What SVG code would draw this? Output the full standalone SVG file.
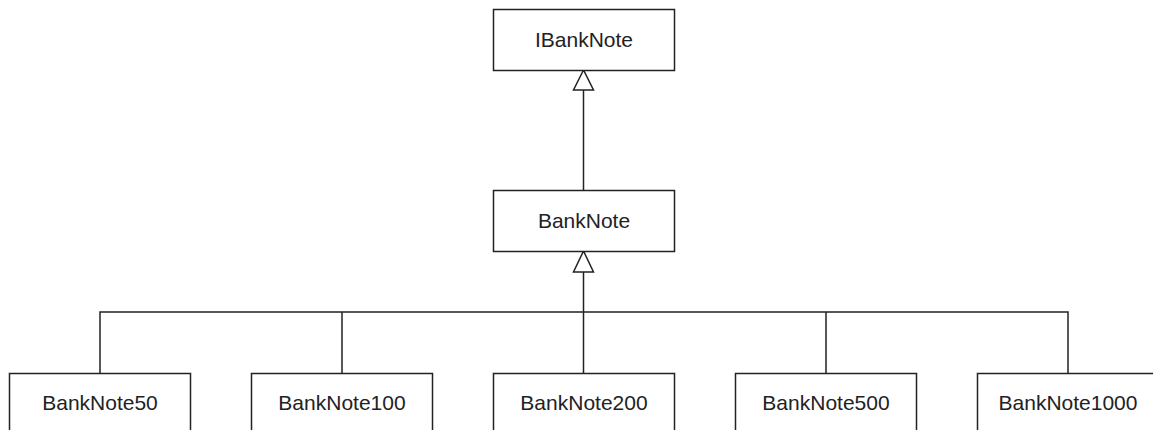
<svg xmlns="http://www.w3.org/2000/svg" width="1153" height="430" viewBox="0 0 1153 430">
<style>
.box{fill:#fff;stroke:#222;stroke-width:1.5}
.lbl{font-family:"Liberation Sans",Arial,sans-serif;font-size:21px;fill:#222;text-anchor:middle}
.edge{fill:none;stroke:#222;stroke-width:1.5}
.tri{fill:#fff;stroke:#222;stroke-width:1.5}
</style>
<rect width="1153" height="430" fill="#fff"/>
<g id="connectors">
<path class="edge" d="M583.5 90 V191"/>
<path class="tri" d="M583.5 70 L573.5 90 L593.5 90 Z"/>
<path class="edge" d="M583.5 272 V373 M100 373 V312 H1068 V373 M342 312 V373 M826 312 V373"/>
<path class="tri" d="M583.5 251 L573.5 272 L593.5 272 Z"/>
</g>
<g id="IBankNote"><rect class="box" x="493.5" y="9.5" width="181" height="61"/><text class="lbl" x="584" y="47">IBankNote</text></g>
<g id="BankNote"><rect class="box" x="493.5" y="190.5" width="181" height="61"/><text class="lbl" x="584" y="228">BankNote</text></g>
<g id="BankNote50"><rect class="box" x="9.5" y="373.5" width="181" height="61"/><text class="lbl" x="100" y="410">BankNote50</text></g>
<g id="BankNote100"><rect class="box" x="251.5" y="373.5" width="181" height="61"/><text class="lbl" x="342" y="410">BankNote100</text></g>
<g id="BankNote200"><rect class="box" x="493.5" y="373.5" width="181" height="61"/><text class="lbl" x="584" y="410">BankNote200</text></g>
<g id="BankNote500"><rect class="box" x="735.5" y="373.5" width="181" height="61"/><text class="lbl" x="826" y="410">BankNote500</text></g>
<g id="BankNote1000"><rect class="box" x="977.5" y="373.5" width="181" height="61"/><text class="lbl" x="1068" y="410">BankNote1000</text></g>
</svg>
